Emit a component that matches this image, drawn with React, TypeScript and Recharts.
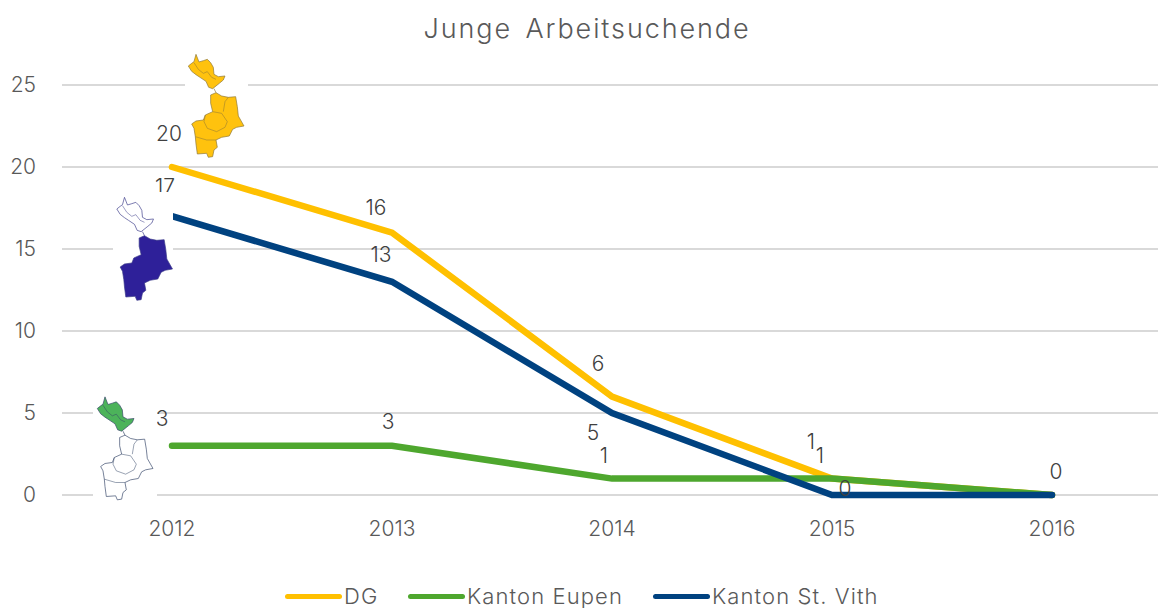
import React from "react";
import { LineChart, Line, XAxis, YAxis, CartesianGrid, Legend, LabelList } from "recharts";

const years = ["2012", "2013", "2014", "2015", "2016"];
const dg = [20, 16, 6, 1, 0];
const eupen = [3, 3, 1, 1, 0];
const vith = [17, 13, 5, 0, 0];
const yTicks = [0, 5, 10, 15, 20, 25];
const rows = years.map((year, i) => ({ year, dg: dg[i], eupen: eupen[i], vith: vith[i] }));

const FONT = "Inter, sans-serif";
const dgOffsets: ([number, number] | null)[] = [[-3, -34], [-16, -25], [-14, -33], [-21, -37], null];
const eupenOffsets: ([number, number] | null)[] = [[-10, -27], [-4, -24], [-8, -23], [-12, -23], null];
const vithOffsets: ([number, number] | null)[] = [[-7, -30], [-11, -27], [-19, 19], [13, -7], [4, -24]];

const mapUpper = "318,43 327,66 340,62 352,58 362,68 370,82 372,103 385,110 405,108 400,120 388,130 368,146 356,142 348,124 330,112 318,104 305,94 295,78 305,70 312,65";
const mapLower = "362,165 378,158 395,168 415,172 437,170 442,200 445,228 462,258 440,262 428,268 418,288 395,292 378,300 382,322 372,330 368,350 355,352 350,340 322,342 318,312 316,290 312,265 305,252 318,243 340,240 346,225 368,215 362,190";
const mapLink = "372,146 378,158";
const mapUpperInner = ["312,68 325,88 340,100 352,95 365,112 378,118"];
const mapLowerInner = [
  "346,225 342,245 352,265 380,275 405,262 412,245 395,220 368,215",
  "415,172 405,185 400,215",
  "316,290 350,300 378,300",
];

function makeLabel(offsets: ([number, number] | null)[]) {
  return (p: any) => {
    const o = offsets[p.index];
    if (!o) return null;
    return (
      <text x={p.x + o[0]} y={p.y + o[1]} textAnchor="middle" dominantBaseline="central"
        fontFamily={FONT} fontWeight={300} fontSize={21} fill="#404040">{p.value}</text>
    );
  };
}

function RegionMap({ x, y, upperFill, lowerFill, stroke, showLowerInner = true }: any) {
  return (
    <g transform={`translate(${x} ${y}) scale(0.3333)`} strokeWidth={2} strokeLinejoin="round">
      <polyline points={mapLink} fill="none" stroke={stroke} />
      <polygon points={mapUpper} fill={upperFill} stroke={stroke} />
      <polygon points={mapLower} fill={lowerFill} stroke={stroke} />
      {mapUpperInner.map((pts, i) => <polyline key={i} points={pts} fill="none" stroke={stroke} strokeWidth={1.5} />)}
      {showLowerInner && mapLowerInner.map((pts, i) => <polyline key={i} points={pts} fill="none" stroke={stroke} strokeWidth={1.5} />)}
    </g>
  );
}

function LegendRow({ payload }: any) {
  const widths = [123, 245, 0];
  return (
    <div style={{ display: "flex", fontFamily: FONT, fontWeight: 300, fontSize: 22, color: "#595959", letterSpacing: 1.1 }}>
      {(payload || []).map((e: any, i: number) => (
        <div key={e.value} style={{ display: "flex", alignItems: "center", width: widths[i] || undefined, whiteSpace: "nowrap" }}>
          <span style={{ display: "inline-block", width: 57, height: 5, borderRadius: 3, background: e.color, marginRight: 2 }} />
          {e.value}
        </div>
      ))}
    </div>
  );
}

export default function App() {
  return (
    <div style={{ position: "absolute", left: 0, top: 0, width: 1158, height: 608, overflow: "hidden", background: "#fff" }}>
      <LineChart width={1170} height={608} data={rows} margin={{ top: 85, right: 8, bottom: 57, left: 0 }}>
        <CartesianGrid horizontal vertical={false} stroke="#d9d9d9" strokeWidth={2} />
        <XAxis dataKey="year" padding={{ left: 110, right: 110 }} axisLine={false} tickLine={false} tickMargin={20}
          tick={{ fontFamily: FONT, fontWeight: 300, fontSize: 21, fill: "#595959" }} />
        <YAxis width={62} domain={[0, 25]} ticks={yTicks} axisLine={false} tickLine={false} tickMargin={20}
          tick={{ fontFamily: FONT, fontWeight: 300, fontSize: 21, fill: "#595959" }} />
        <Legend verticalAlign="bottom" content={<LegendRow />} wrapperStyle={{ left: 285, top: 583, width: 800, bottom: "auto" }} />
        <Line dataKey="dg" name="DG" stroke="#FFC000" strokeWidth={6.5} dot={false} isAnimationActive={false} strokeLinecap="round">
          <LabelList dataKey="dg" content={makeLabel(dgOffsets)} />
        </Line>
        <Line dataKey="eupen" name="Kanton Eupen" stroke="#4EA72E" strokeWidth={6.5} dot={false} isAnimationActive={false} strokeLinecap="round">
          <LabelList dataKey="eupen" content={makeLabel(eupenOffsets)} />
        </Line>
        <Line dataKey="vith" name="Kanton St. Vith" stroke="#004280" strokeWidth={6.5} dot={false} isAnimationActive={false} strokeLinecap="round">
          <LabelList dataKey="vith" content={makeLabel(vithOffsets)} />
        </Line>
      </LineChart>
      <svg width={1158} height={608} style={{ position: "absolute", left: 0, top: 0, pointerEvents: "none" }}>
        <text x={587} y={38} textAnchor="middle" fontFamily={FONT} fontWeight={300} fontSize={27} letterSpacing={1.9} wordSpacing={4} fill="#595959">Junge Arbeitsuchende</text>
        <rect x={185} y={50} width={63} height={112} fill="#fff" />
        <rect x={113} y={192} width={60} height={108} fill="#fff" />
        <rect x={93} y={393} width={64} height={108} fill="#fff" />
        <RegionMap x={90} y={40} upperFill="#FFC20E" lowerFill="#FFC20E" stroke="#8a7436" />
        <RegionMap x={18.5} y={183} upperFill="#fff" lowerFill="#2E2099" stroke="#3a3a88" showLowerInner={false} />
        <RegionMap x={-1} y={382.5} upperFill="#4CB35A" lowerFill="#fff" stroke="#334466" />
      </svg>
    </div>
  );
}
